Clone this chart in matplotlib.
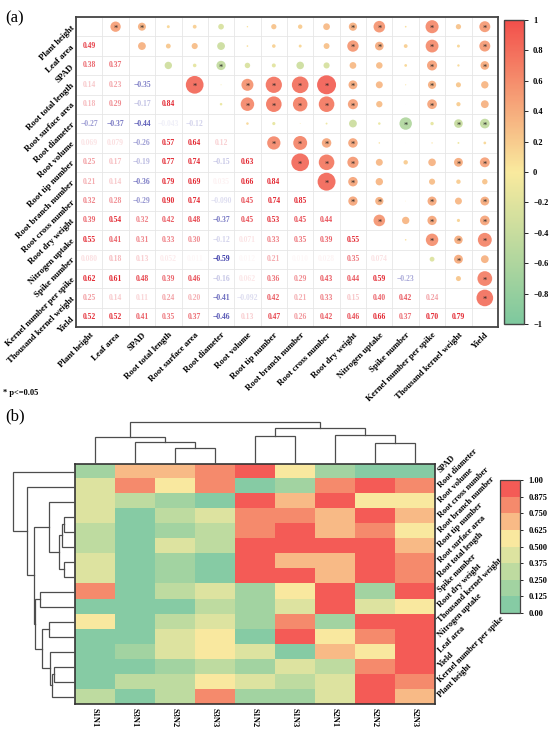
import numpy as np
import matplotlib
matplotlib.use("Agg")
import matplotlib.pyplot as plt
from matplotlib.colors import LinearSegmentedColormap, ListedColormap, BoundaryNorm, Normalize
from matplotlib.cm import ScalarMappable
from matplotlib.transforms import ScaledTranslation

plt.rcParams['font.family'] = ['Liberation Serif', 'DejaVu Serif']

# ---------------- data, panel (a) ----------------
traits = ["Plant height", "Leaf area", "SPAD", "Root total length", "Root surface area",
          "Root diameter", "Root volume", "Root tip number", "Root branch number",
          "Root cross number", "Root dry weight", "Nitrogen uptake", "Spike number",
          "Kernel number per spike", "Thousand kernel weight", "Yield"]

# lower triangle of the correlation matrix, row by row
corr_lower = [
    [],
    [0.49],
    [0.38, 0.37],
    [0.14, 0.23, -0.35],
    [0.18, 0.29, -0.17, 0.84],
    [-0.27, -0.37, -0.44, -0.043, -0.12],
    [0.069, 0.079, -0.26, 0.57, 0.64, 0.12],
    [0.25, 0.17, -0.19, 0.77, 0.74, -0.15, 0.63],
    [0.21, 0.14, -0.36, 0.79, 0.69, 0.035, 0.66, 0.84],
    [0.32, 0.28, -0.29, 0.90, 0.74, -0.090, 0.45, 0.74, 0.85],
    [0.39, 0.54, 0.32, 0.42, 0.48, -0.37, 0.45, 0.53, 0.45, 0.44],
    [0.55, 0.41, 0.31, 0.33, 0.30, -0.12, 0.071, 0.33, 0.35, 0.39, 0.55],
    [0.080, 0.18, 0.13, 0.052, 0.011, -0.59, 0.012, 0.21, 0.010, 0.028, 0.35, 0.074],
    [0.62, 0.61, 0.48, 0.39, 0.46, -0.16, 0.062, 0.36, 0.29, 0.43, 0.44, 0.59, -0.23],
    [0.25, 0.14, 0.11, 0.24, 0.20, -0.41, -0.092, 0.42, 0.21, 0.33, 0.15, 0.40, 0.42, 0.24],
    [0.52, 0.52, 0.41, 0.35, 0.37, -0.46, 0.13, 0.47, 0.26, 0.42, 0.46, 0.66, 0.37, 0.70, 0.79],
]
r_crit = 0.38   # |r| needed for p <= 0.05

# ---------------- data, panel (b) ----------------
treatments = ["S1N1", "S3N1", "S3N2", "S3N3", "S1N2", "S1N3", "S2N1", "S2N2", "S2N3"]
heat_rows = ["SPAD", "Root diameter", "Root volume", "Root cross number", "Root branch number",
             "Root tip number", "Root surface area", "Root total length", "Spike number",
             "Root dry weight", "Thousand kernel weight", "Nitrogen uptake", "Leaf area",
             "Yield", "Kernel number per spike", "Plant height"]
heat_vals = [
    [0.19, 0.69, 0.69, 0.81, 0.94, 0.56, 0.19, 0.06, 0.06],
    [0.44, 0.81, 0.56, 0.81, 0.06, 0.19, 0.81, 0.94, 0.81],
    [0.44, 0.31, 0.19, 0.06, 0.94, 0.69, 0.94, 0.56, 0.56],
    [0.44, 0.06, 0.31, 0.44, 0.81, 0.81, 0.69, 0.94, 0.69],
    [0.31, 0.06, 0.19, 0.31, 0.81, 0.94, 0.69, 0.81, 0.56],
    [0.31, 0.06, 0.44, 0.31, 0.94, 0.94, 0.94, 0.94, 0.69],
    [0.44, 0.06, 0.19, 0.06, 0.94, 0.69, 0.69, 0.94, 0.81],
    [0.44, 0.06, 0.19, 0.06, 0.94, 0.94, 0.69, 0.94, 0.81],
    [0.81, 0.06, 0.31, 0.44, 0.19, 0.56, 0.94, 0.19, 0.94],
    [0.06, 0.06, 0.06, 0.31, 0.19, 0.44, 0.94, 0.44, 0.56],
    [0.56, 0.06, 0.31, 0.44, 0.19, 0.81, 0.19, 0.94, 0.94],
    [0.06, 0.06, 0.44, 0.56, 0.06, 0.94, 0.56, 0.81, 0.94],
    [0.06, 0.19, 0.44, 0.56, 0.44, 0.06, 0.69, 0.56, 0.94],
    [0.06, 0.06, 0.19, 0.31, 0.19, 0.44, 0.31, 0.81, 0.94],
    [0.06, 0.31, 0.31, 0.56, 0.44, 0.31, 0.44, 0.94, 0.81],
    [0.31, 0.06, 0.31, 0.81, 0.19, 0.19, 0.44, 0.94, 0.69],
]
# dendrogram merges (child a, child b, height); leaves are in display order
col_merges = [(2, 3, 15.7), (1, 9, 21.7), (0, 10, 27.3), (4, 5, 28.0), (7, 8, 20.7),
              (6, 13, 29.3), (12, 14, 36.0), (11, 15, 42.3)]
row_merges = [(3, 4, 11.4), (16, 5, 13.4), (6, 7, 11.4), (17, 18, 16.4), (2, 19, 26.4),
              (8, 9, 34.7), (10, 11, 26.4), (13, 14, 21.4), (23, 15, 23.0), (12, 24, 25.4),
              (22, 25, 33.0), (21, 26, 40.4), (20, 27, 41.4), (1, 28, 48.0), (0, 29, 62.0)]

W, H = 550, 736
fig = plt.figure(figsize=(W / 100, H / 100), dpi=100)


def px_axes(x0, y0, x1, y1):
    return fig.add_axes([x0 / W, 1 - y1 / H, (x1 - x0) / W, (y1 - y0) / H])


n = len(traits)
corr = np.eye(n)
for i, row in enumerate(corr_lower):
    for j, v in enumerate(row):
        corr[i, j] = v
        corr[j, i] = v

cmap_a = LinearSegmentedColormap.from_list("gyr", ["#7dc89e", "#f9ea9e", "#f24f4b"])
norm_a = Normalize(-1, 1)

# ---------------- panel (a) ----------------
ax = px_axes(76, 17, 498, 327)
ax.set_xlim(0, n)
ax.set_ylim(n, 0)
ax.set_xticks(np.arange(n) + 0.5)
ax.set_yticks(np.arange(n) + 0.5)
ax.set_xticks(np.arange(n + 1), minor=True)
ax.set_yticks(np.arange(n + 1), minor=True)
ax.grid(which='minor', color='#e6e6e6', lw=0.6)
ax.tick_params(which='both', length=0)
ax.set_xticklabels(traits, rotation=45, ha='right', va='top', rotation_mode='anchor',
                   fontsize=6.3, fontweight='bold')
ax.set_yticklabels(traits, rotation=45, ha='right', va='center', rotation_mode='anchor',
                   fontsize=6.3, fontweight='bold')
ax.tick_params(axis='x', pad=3)
ax.tick_params(axis='y', pad=2)
for s in ax.spines.values():
    s.set_color('#444444')
    s.set_linewidth(1.3)

xs, ys, vs = [], [], []
for i in range(n):
    for j in range(i + 1, n):
        xs.append(j + 0.5)
        ys.append(i + 0.5)
        vs.append(corr[i, j])
vs = np.array(vs)
ax.scatter(xs, ys, s=230 * vs ** 2, c=vs, cmap=cmap_a, norm=norm_a, alpha=0.92,
           edgecolors='none', zorder=3)
for x, y, v in zip(xs, ys, vs):
    if abs(v) >= r_crit:
        ax.text(x, y + 0.12, "*", ha='center', va='center', fontsize=6, color='#222222', zorder=4)

for i in range(n):
    for j in range(i):
        v = corr[i, j]
        txt = f"{abs(v):.2f}" if abs(v) >= 0.1 else f"{abs(v):.3f}"
        if v < 0:
            txt = "\u2212" + txt
        col = '#e32630' if v > 0 else '#3535a6'
        a = float(np.clip(abs(v) / 0.55, 0.03, 1.0))
        ax.text(j + 0.5, i + 0.5, txt, ha='center', va='center', fontsize=5.5,
                fontweight='bold', color=col, alpha=a)

cax = px_axes(504, 20, 524, 324)
cb = fig.colorbar(ScalarMappable(norm=norm_a, cmap=cmap_a), cax=cax)
cb.set_ticks(np.linspace(-1, 1, 11))
cb.set_ticklabels(["\u22121", "\u22120.8", "\u22120.6", "\u22120.4", "\u22120.2", "0",
                   "0.2", "0.4", "0.6", "0.8", "1"])
cax.tick_params(labelsize=6, length=3, width=0.6)
for t in cax.get_yticklabels():
    t.set_fontweight('bold')
cb.outline.set_edgecolor('#444444')
cb.outline.set_linewidth(1.0)

fig.text(5 / W, 1 - 18 / H, "(a)", fontsize=12, va='center')
fig.text(3 / W, 1 - 393 / H, "* p<=0.05", fontsize=6, fontweight='bold', va='center')
fig.text(5 / W, 1 - 416 / H, "(b)", fontsize=12, va='center')

# ---------------- panel (b) ----------------
levels = np.linspace(0, 1, 9)
heat_colors = ["#86cba4", "#a2d3a1", "#bedba0", "#dde3a0", "#f9e89f",
               "#f8ba86", "#f58a6c", "#f45b56"]
cmap_b = ListedColormap(heat_colors)
norm_b = BoundaryNorm(levels, cmap_b.N)

nr, nc = len(heat_rows), len(treatments)
hax = px_axes(75, 464, 435, 704)
hax.imshow(np.array(heat_vals), cmap=cmap_b, norm=norm_b, aspect='auto',
           extent=(0, nc, nr, 0), interpolation='nearest')
hax.set_xlim(0, nc)
hax.set_ylim(nr, 0)
hax.set_xticks(np.arange(nc) + 0.5)
hax.set_xticklabels(treatments, rotation=270, fontsize=6, fontweight='bold', va='top', ha='center')
hax.yaxis.tick_right()
hax.set_yticks(np.arange(nr) + 0.5)
hax.set_yticklabels(heat_rows, rotation=45, ha='left', va='center', rotation_mode='anchor',
                    fontsize=6, fontweight='bold')
shift = ScaledTranslation(0, -4 / 100, fig.dpi_scale_trans)
for t in hax.get_yticklabels():
    t.set_transform(t.get_transform() + shift)
hax.tick_params(length=0, pad=3)
for s in hax.spines.values():
    s.set_color('#333333')
    s.set_linewidth(1.2)


def draw_tree(a, merges, nleaf, vertical):
    pos = [k + 0.5 for k in range(nleaf)]
    hts = [0.0] * nleaf
    for c1, c2, h in merges:
        p1, p2, h1, h2 = pos[c1], pos[c2], hts[c1], hts[c2]
        px = [p1, p1, p2, p2]
        py = [h1, h, h, h2]
        if vertical:
            a.plot(px, py, color='#4d4d4d', lw=0.9, solid_joinstyle='miter')
        else:
            a.plot(py, px, color='#4d4d4d', lw=0.9, solid_joinstyle='miter')
        pos.append((p1 + p2) / 2)
        hts.append(h)
    a.axis('off')


dax = px_axes(75, 419, 435, 464)
draw_tree(dax, col_merges, nc, True)
dax.set_xlim(0, nc)
dax.set_ylim(0, 45)

rax = px_axes(12, 464, 75, 704)
draw_tree(rax, row_merges, nr, False)
rax.set_xlim(63, 0)
rax.set_ylim(nr, 0)

cbx = px_axes(500, 480, 520, 613)
cb2 = fig.colorbar(ScalarMappable(norm=norm_b, cmap=cmap_b), cax=cbx, ticks=levels)
cb2.set_ticklabels(["0.00", "0.125", "0.250", "0.375", "0.500", "0.625", "0.750", "0.875", "1.00"])
cbx.tick_params(labelsize=6, length=2.5, width=0.6)
for t in cbx.get_yticklabels():
    t.set_fontweight('bold')
cb2.outline.set_edgecolor('#444444')
cb2.outline.set_linewidth(0.9)

fig.savefig("out.png", dpi=100)
